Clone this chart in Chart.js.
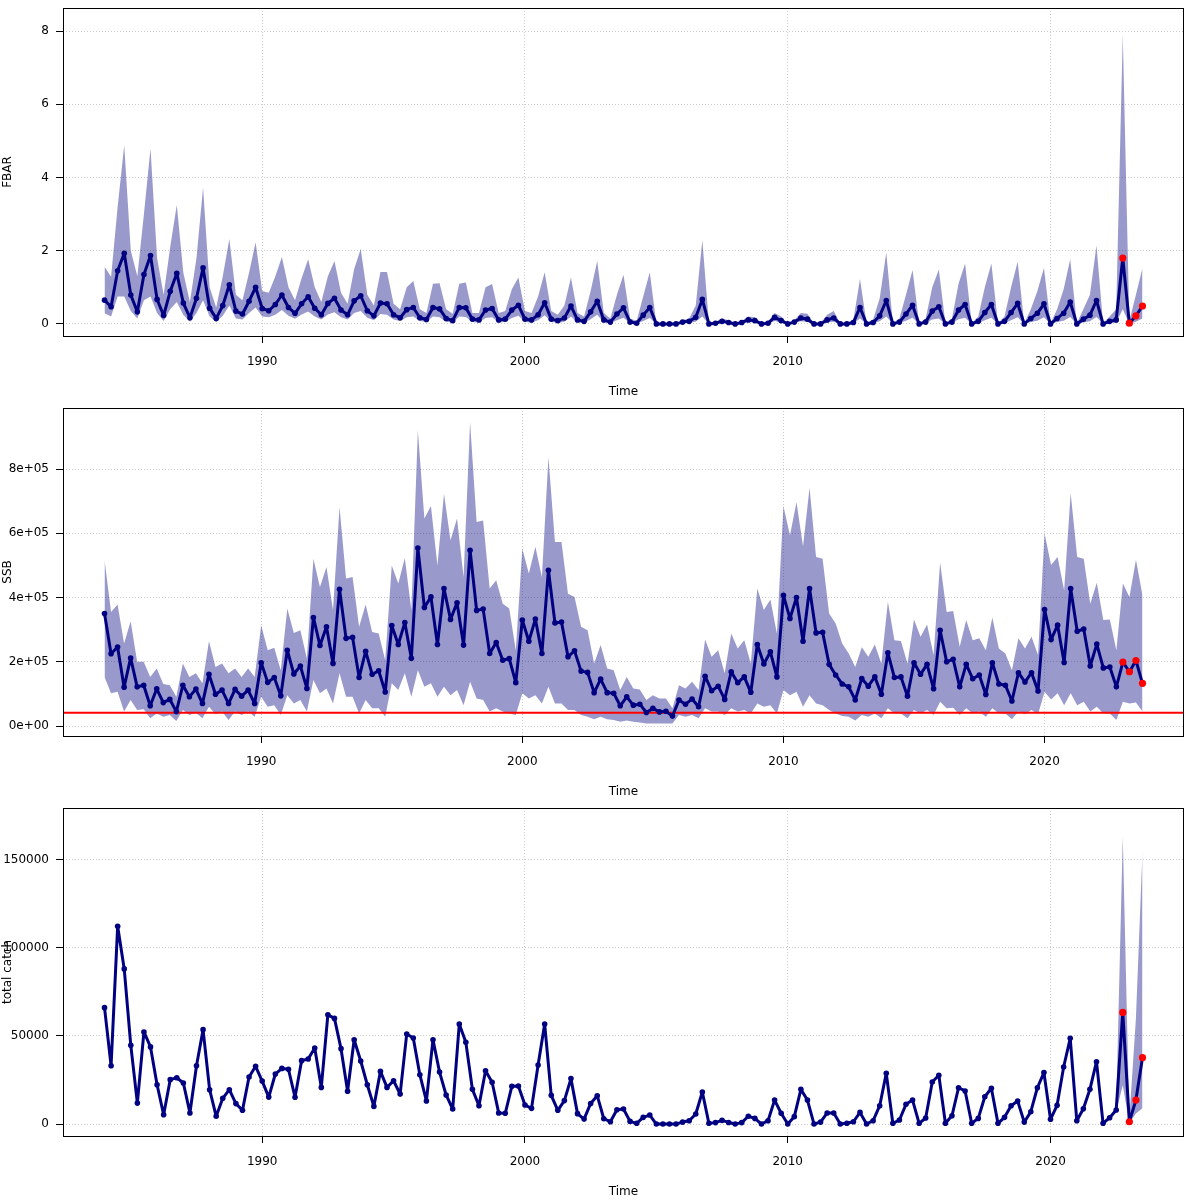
<!DOCTYPE html>
<html>
<head>
<meta charset="utf-8">
<title>FBAR, SSB and total catch</title>
<script src="https://cdn.jsdelivr.net/npm/chart.js@4.4.1/dist/chart.umd.min.js"></script>
<style>
  body { margin: 0; background: #fff; }
  canvas { display: block; }
</style>
</head>
<body>
<canvas id="fbarChart" width="1200" height="400"></canvas>
<canvas id="ssbChart" width="1200" height="400"></canvas>
<canvas id="catchChart" width="1200" height="400"></canvas>
<script>
// quarterly series, first value at 1984 Q1
const startYear = 1984;
const yearTicks = [1990, 2000, 2010, 2020];

// FBAR estimate with confidence band
const fbar = [
  0.65, 0.47, 1.45, 1.93, 0.79, 0.33, 1.35, 1.87,   // 1984-85
  0.67, 0.23, 0.89, 1.38, 0.57, 0.17, 0.70, 1.53,   // 1986-87
  0.43, 0.15, 0.50, 1.07, 0.35, 0.27, 0.62, 1.00,   // 1988-89
  0.42, 0.36, 0.53, 0.79, 0.45, 0.29, 0.55, 0.74,   // 1990-91
  0.43, 0.25, 0.56, 0.70, 0.38, 0.25, 0.63, 0.77,   // 1992-93
  0.36, 0.22, 0.57, 0.55, 0.25, 0.17, 0.39, 0.45,   // 1994-95
  0.17, 0.12, 0.45, 0.41, 0.15, 0.09, 0.45, 0.44,   // 1996-97
  0.13, 0.11, 0.38, 0.42, 0.11, 0.13, 0.38, 0.51,   // 1998-99
  0.13, 0.11, 0.25, 0.58, 0.13, 0.09, 0.16, 0.49,   // 2000-01
  0.11, 0.07, 0.33, 0.62, 0.11, 0.05, 0.27, 0.44,   // 2002-03
  0.05, 0.02, 0.24, 0.45, 0.00, 0.00, 0.00, 0.00,   // 2004-05
  0.05, 0.07, 0.18, 0.67, 0.00, 0.02, 0.07, 0.04,   // 2006-07
  0.00, 0.04, 0.11, 0.09, 0.00, 0.02, 0.18, 0.09,   // 2008-09
  0.00, 0.05, 0.16, 0.13, 0.00, 0.00, 0.11, 0.16,   // 2010-11
  0.00, 0.00, 0.04, 0.45, 0.00, 0.04, 0.22, 0.64,   // 2012-13
  0.00, 0.05, 0.27, 0.51, 0.00, 0.05, 0.35, 0.47,   // 2014-15
  0.00, 0.05, 0.38, 0.53, 0.00, 0.07, 0.31, 0.53,   // 2016-17
  0.00, 0.07, 0.31, 0.56, 0.00, 0.15, 0.29, 0.55,   // 2018-19
  0.00, 0.15, 0.29, 0.60, 0.00, 0.13, 0.24, 0.64,   // 2020-21
  0.00, 0.07, 0.11, 1.80, 0.02, 0.22, 0.49          // 2022-23
];
const fbarLow = [
  0.29, 0.20, 0.75, 0.75, 0.35, 0.15, 0.65, 0.75,
  0.30, 0.08, 0.40, 0.60, 0.25, 0.06, 0.30, 0.65,
  0.20, 0.05, 0.22, 0.50, 0.15, 0.12, 0.30, 0.45,
  0.20, 0.18, 0.25, 0.38, 0.22, 0.14, 0.26, 0.34,
  0.20, 0.12, 0.26, 0.32, 0.18, 0.12, 0.30, 0.35,
  0.17, 0.10, 0.27, 0.25, 0.12, 0.08, 0.18, 0.20,
  0.08, 0.05, 0.20, 0.18, 0.06, 0.03, 0.20, 0.19,
  0.05, 0.04, 0.16, 0.18, 0.04, 0.05, 0.16, 0.22,
  0.05, 0.04, 0.10, 0.24, 0.05, 0.03, 0.06, 0.20,
  0.04, 0.02, 0.13, 0.25, 0.04, 0.02, 0.10, 0.17,
  0.02, 0.01, 0.08, 0.16, 0.00, 0.00, 0.00, 0.00,
  0.02, 0.03, 0.06, 0.20, 0.00, 0.01, 0.03, 0.01,
  0.00, 0.01, 0.05, 0.04, 0.00, 0.01, 0.08, 0.04,
  0.00, 0.02, 0.07, 0.05, 0.00, 0.00, 0.04, 0.06,
  0.00, 0.00, 0.01, 0.15, 0.00, 0.01, 0.07, 0.20,
  0.00, 0.02, 0.09, 0.17, 0.00, 0.02, 0.12, 0.15,
  0.00, 0.02, 0.13, 0.17, 0.00, 0.02, 0.10, 0.17,
  0.00, 0.02, 0.10, 0.18, 0.00, 0.05, 0.09, 0.18,
  0.00, 0.05, 0.09, 0.19, 0.00, 0.04, 0.07, 0.19,
  0.00, 0.02, 0.03, 0.40, 0.00, 0.06, 0.15
];
const fbarHigh = [
  1.56, 1.29, 3.20, 4.88, 2.00, 1.30, 3.00, 4.79,
  1.80, 0.80, 2.10, 3.25, 1.40, 0.60, 1.80, 3.73,
  1.00, 0.45, 1.30, 2.32, 0.80, 0.65, 1.40, 2.23,
  0.90, 0.85, 1.30, 1.83, 1.00, 0.65, 1.25, 1.77,
  1.00, 0.60, 1.30, 1.72, 0.85, 0.55, 1.50, 2.05,
  0.80, 0.50, 1.42, 1.42, 0.55, 0.40, 1.00, 1.17,
  0.40, 0.30, 1.10, 1.11, 0.40, 0.28, 1.10, 1.13,
  0.30, 0.30, 1.00, 1.09, 0.30, 0.35, 0.95, 1.27,
  0.35, 0.30, 0.75, 1.41, 0.35, 0.25, 0.50, 1.27,
  0.30, 0.20, 0.90, 1.72, 0.30, 0.15, 0.80, 1.34,
  0.15, 0.08, 0.75, 1.41, 0.01, 0.01, 0.01, 0.01,
  0.10, 0.15, 0.50, 2.29, 0.02, 0.06, 0.15, 0.10,
  0.01, 0.08, 0.20, 0.18, 0.01, 0.05, 0.30, 0.20,
  0.01, 0.10, 0.30, 0.28, 0.01, 0.02, 0.25, 0.35,
  0.01, 0.02, 0.12, 1.23, 0.02, 0.12, 0.70, 1.95,
  0.02, 0.15, 0.80, 1.47, 0.02, 0.15, 1.00, 1.49,
  0.02, 0.15, 1.10, 1.65, 0.02, 0.20, 1.00, 1.65,
  0.02, 0.20, 1.00, 1.70, 0.02, 0.40, 0.90, 1.53,
  0.02, 0.40, 0.95, 1.77, 0.02, 0.40, 0.80, 2.14,
  0.02, 0.20, 0.40, 7.90, 0.08, 0.80, 1.53
];

// SSB in thousand tonnes (one quarter longer than the other series)
const ssb = [
  350, 225, 246, 121, 212, 122, 127,  63,   // 1984-85
  116,  73,  83,  45, 127,  91, 115,  70,   // 1986-87
  161,  99, 112,  70, 114,  93, 112,  70,   // 1988-89
  197, 136, 151,  94, 236, 162, 187, 117,   // 1990-91
  338, 251, 309, 195, 426, 273, 276, 151,   // 1992-93
  233, 161, 172, 106, 313, 254, 322, 211,   // 1994-95
  554, 369, 402, 254, 428, 332, 384, 252,   // 1996-97
  547, 360, 364, 226, 260, 205, 210, 135,   // 1998-99
  330, 264, 333, 226, 485, 321, 324, 216,   // 2000-01
  234, 171, 167, 104, 146, 104, 102,  63,   // 2002-03
   91,  65,  68,  42,  55,  44,  46,  31,   // 2004-05
   81,  68,  84,  60, 155, 110, 124,  83,   // 2006-07
  169, 135, 153, 105, 254, 193, 231, 153,   // 2008-09
  407, 335, 400, 264, 428, 290, 292, 192,   // 2010-11
  159, 131, 122,  81, 148, 124, 153,  99,   // 2012-13
  228, 151, 153,  93, 197, 161, 192, 116,   // 2014-15
  298, 200, 208, 122, 192, 147, 159,  98,   // 2016-17
  197, 131, 127,  78, 166, 137, 166, 109,   // 2018-19
  363, 269, 314, 198, 428, 295, 302, 187,   // 2020-21
  255, 181, 184, 122, 199, 169, 204, 133    // 2022-23
];
const ssbLow = [
  153, 102, 107,  45,  81,  50,  52,  24,
   39,  29,  34,  16,  50,  34,  41,  24,
   60,  37,  45,  19,  45,  34,  45,  29,
   91,  60,  65,  34,  96,  70,  81,  45,
  143, 102, 117,  70, 164,  91,  91,  39,
   81,  55,  55,  29, 133, 112, 164,  91,
  174, 122, 133,  91, 122,  96, 112,  65,
  138,  86,  81,  45,  55,  45,  39,  34,
  102,  86,  96,  70, 122,  70,  70,  50,
   50,  34,  29,  21,  29,  21,  19,  13,
   17,  13,  11,   8,   8,   8,   8,   8,
   34,  29,  34,  24,  55,  45,  45,  34,
   55,  45,  50,  39,  70,  60,  65,  39,
  112,  96, 107,  60,  96,  70,  65,  50,
   39,  31,  29,  17,  34,  29,  39,  24,
   55,  39,  39,  24,  50,  39,  50,  34,
   76,  55,  57,  34,  55,  39,  45,  29,
   55,  39,  39,  21,  45,  37,  50,  37,
  107,  83, 102,  65, 102,  65,  76,  45,
   60,  39,  39,  19,  76,  70,  73,  45
];
const ssbHigh = [
  518, 355, 378, 257, 326, 200, 200, 153,
  179, 131, 127,  91, 195, 153, 164, 133,
  264, 184, 195, 164, 179, 153, 179, 153,
  314, 236, 244, 174, 366, 290, 298, 210,
  521, 433, 495, 361, 682, 459, 464, 309,
  378, 293, 288, 205, 500, 444, 523, 361,
  920, 646, 685, 500, 723, 578, 646, 464,
  946, 635, 640, 428, 454, 381, 366, 236,
  552, 475, 558, 464, 837, 573, 573, 412,
  402, 309, 298, 195, 252, 179, 174, 112,
  153, 117, 114,  81,  96,  86,  86,  55,
  127, 117, 138, 112, 269, 216, 236, 164,
  288, 241, 267, 195, 428, 361, 394, 288,
  684, 594, 697, 560, 742, 526, 521, 350,
  319, 257, 226, 184, 245, 216, 254, 195,
  387, 267, 265, 195, 332, 278, 316, 221,
  509, 355, 358, 247, 330, 267, 273, 236,
  338, 241, 226, 174, 273, 241, 278, 221,
  599, 501, 526, 423, 725, 526, 521, 381,
  446, 330, 332, 236, 444, 402, 518, 407
];
const ssbLimit = 41; // red reference line, thousand tonnes

// total catch in thousand tonnes
const totalCatch = [
  66.1, 33.1, 112.3, 88.1, 44.7, 11.9, 52.3, 43.8,   // 1984-85
  22.3,  5.3,  25.2, 26.3, 23.3,  6.3, 33.1, 53.6,   // 1986-87
  19.5,  4.4,  14.6, 19.5, 11.6,  7.8, 26.7, 32.8,   // 1988-89
  24.4, 15.3,  28.4, 31.6, 31.1, 15.2, 36.0, 36.9,   // 1990-91
  43.2, 20.8,  62.1, 60.0, 42.8, 18.6, 47.9, 35.8,   // 1992-93
  22.3, 10.0,  29.9, 20.8, 24.6, 17.0, 51.1, 48.9,   // 1994-95
  28.0, 13.1,  47.9, 29.5, 16.5,  8.5, 56.8, 46.4,   // 1996-97
  19.7, 10.4,  30.3, 23.7,  6.3,  6.1, 21.4, 21.6,   // 1998-99
  10.8,  8.9,  33.5, 56.8, 16.3,  7.8, 13.3, 25.8,   // 2000-01
   5.9,  2.8,  11.7, 16.1,  3.0,  1.3,  8.1,  8.5,   // 2002-03
   1.5,  0.4,   3.8,  5.1,  0.0,  0.0,  0.0,  0.0,   // 2004-05
   1.1,  1.9,   5.7, 18.2,  0.4,  0.8,  2.1,  0.9,   // 2006-07
   0.0,  0.8,   4.4,  3.2,  0.0,  1.9, 13.6,  6.1,   // 2008-09
   0.0,  4.2,  19.7, 13.6,  0.0,  1.1,  6.3,  6.3,   // 2010-11
   0.0,  0.4,   1.3,  6.6,  0.0,  1.9, 10.4, 28.8,   // 2012-13
   0.4,  2.3,  11.2, 13.6,  0.4,  3.4, 23.9, 27.7,   // 2014-15
   0.4,  4.7,  20.6, 18.8,  0.4,  3.2, 15.5, 20.3,   // 2016-17
   0.4,  3.8,  10.4, 13.1,  1.1,  7.0, 20.6, 29.2,   // 2018-19
   2.7, 10.6,  32.4, 48.7,  1.9,  8.7, 19.7, 35.4,   // 2020-21
   0.4,  3.6,   8.0, 63.4,  1.3, 13.6, 37.7           // 2022-23
];
// catch band is only visible for the last quarters
const catchBandStart = 2022.5;
const catchLow  = [ 7.0,  22.0, 0.5,  6.0,   9.0];
const catchHigh = [10.0, 163.0, 3.0, 60.0, 155.0];

const forecastPoints = 4; // last points drawn in red

const fbarTicks = [0, 2, 4, 6, 8];
const fbarTickLabels = ['0', '2', '4', '6', '8'];
const ssbTicks = [0, 200000, 400000, 600000, 800000];
const ssbTickLabels = ['0e+00', '2e+05', '4e+05', '6e+05', '8e+05'];
const catchTicks = [0, 50000, 100000, 150000];
const catchTickLabels = ['0', '50000', '100000', '150000'];

const NAVY = '#000080';
const RED = '#ff0000';
const BAND = 'rgba(0, 0, 128, 0.4)';

Chart.defaults.font.family = "'DejaVu Sans', sans-serif";
Chart.defaults.font.size = 12;
Chart.defaults.color = '#000';

const quarters = (n, from) => Array.from({ length: n }, (_, i) => from + i / 4);
const toXY = (times, values, mult) => values.map((v, i) => ({ x: times[i], y: v * mult }));
// R style axis extension: 4% on each side
const rLimits = (times) => {
    const r = times[times.length - 1] - times[0];
    return [times[0] - 0.04 * r, times[times.length - 1] + 0.04 * r];
};

// box around the plot region
const boxPlugin = {
    id: 'plotBox',
    afterDraw(chart) {
        const { ctx, chartArea: a } = chart;
        ctx.save();
        ctx.strokeStyle = '#000';
        ctx.lineWidth = 1;
        ctx.strokeRect(Math.round(a.left) + 0.5, Math.round(a.top) + 0.5,
            Math.round(a.right - a.left) - 1, Math.round(a.bottom - a.top));
        ctx.restore();
    }
};

function makePanel(canvasId, cfg) {
    const [xMin, xMax] = rLimits(cfg.time);
    const bandStyle = {
        borderColor: 'rgba(0,0,0,0)', borderWidth: 1, pointRadius: 0,
        backgroundColor: BAND, order: 5
    };
    const meanPoints = toXY(cfg.time, cfg.values, cfg.mult);

    const datasets = [
        { ...bandStyle, data: toXY(cfg.bandTime, cfg.low, cfg.mult), fill: false },
        { ...bandStyle, data: toXY(cfg.bandTime, cfg.high, cfg.mult), fill: '-1' },
        {
            data: meanPoints, borderColor: NAVY, borderWidth: 3, fill: false,
            borderJoinStyle: 'round', borderCapStyle: 'round',
            pointRadius: 2.8, pointBackgroundColor: NAVY, pointBorderWidth: 0, order: 2
        },
        {
            data: meanPoints.slice(-forecastPoints), showLine: false, fill: false,
            pointRadius: 3.6, pointBackgroundColor: RED, pointBorderWidth: 0, order: 1
        }
    ];
    if (cfg.refLine !== undefined) {
        datasets.push({
            data: [{ x: xMin, y: cfg.refLine * cfg.mult }, { x: xMax, y: cfg.refLine * cfg.mult }],
            borderColor: RED, borderWidth: 2, pointRadius: 0, fill: false, order: 3
        });
    }

    new Chart(document.getElementById(canvasId), {
        type: 'line',
        data: { datasets },
        options: {
            responsive: false,
            animation: false,
            devicePixelRatio: 1,
            layout: { padding: { top: 8, right: 16, bottom: 0, left: 0 } },
            elements: { line: { tension: 0 } },
            plugins: { legend: { display: false }, tooltip: { enabled: false } },
            scales: {
                x: {
                    type: 'linear', min: xMin, max: xMax,
                    afterBuildTicks: s => { s.ticks = yearTicks.map(v => ({ value: v })); },
                    afterFit: s => { s.height = 64; s.paddingLeft = 0; s.paddingRight = 0; },
                    ticks: { callback: v => String(v), padding: 12, maxRotation: 0 },
                    grid: { color: '#cccccc', tickColor: '#000', tickLength: 7, lineWidth: 1 },
                    border: { display: false, dash: [1, 2] },
                    title: { display: true, text: 'Time', padding: { top: 0, bottom: 1 } }
                },
                y: {
                    min: cfg.yMin, max: cfg.yMax,
                    afterBuildTicks: s => { s.ticks = cfg.ticks.map(v => ({ value: v })); },
                    // fixed axis width, and no extra room for the top label
                    afterFit: s => { s.width = 63; s.paddingTop = 0; s.paddingBottom = 0; },
                    ticks: { callback: (v, i) => cfg.tickLabels[i], padding: 7 },
                    grid: { color: '#cccccc', tickColor: '#000', tickLength: 7, lineWidth: 1 },
                    border: { display: false, dash: [1, 2] },
                    title: { display: true, text: cfg.yTitle, padding: { top: 1, bottom: 0 } }
                }
            }
        },
        plugins: [boxPlugin]
    });
}

document.addEventListener('DOMContentLoaded', function() {
    const fbarTime = quarters(fbar.length, startYear);
    const ssbTime = quarters(ssb.length, startYear);
    const catchTime = quarters(totalCatch.length, startYear);

    makePanel('fbarChart', {
        time: fbarTime, values: fbar, mult: 1,
        bandTime: fbarTime, low: fbarLow, high: fbarHigh,
        yMin: -0.33, yMax: 8.63, ticks: fbarTicks, tickLabels: fbarTickLabels, yTitle: 'FBAR'
    });

    makePanel('ssbChart', {
        time: ssbTime, values: ssb, mult: 1000,
        bandTime: ssbTime, low: ssbLow, high: ssbHigh, refLine: ssbLimit,
        yMin: -31000, yMax: 990000, ticks: ssbTicks, tickLabels: ssbTickLabels, yTitle: 'SSB'
    });

    makePanel('catchChart', {
        time: catchTime, values: totalCatch, mult: 1000,
        bandTime: quarters(catchLow.length, catchBandStart), low: catchLow, high: catchHigh,
        yMin: -6800, yMax: 179500, ticks: catchTicks, tickLabels: catchTickLabels, yTitle: 'total catch'
    });
});
</script>
</body>
</html>
